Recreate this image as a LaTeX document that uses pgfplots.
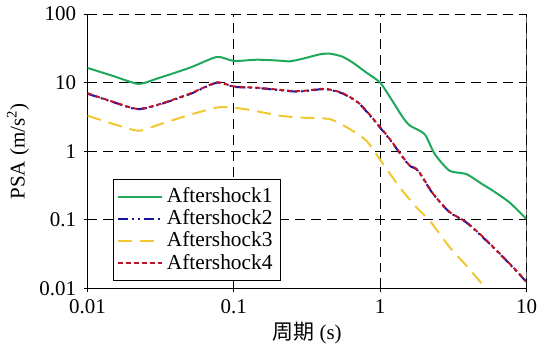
\documentclass[border=0pt]{standalone}
\usepackage{fontspec}
\setmainfont{Liberation Serif}
\newfontfamily\cjk{Noto Sans CJK SC}
\usepackage{pgfplots}
\pgfplotsset{compat=1.18}
\definecolor{cgreen}{RGB}{30,168,90}
\definecolor{cblue}{RGB}{20,20,160}
\definecolor{cyellow}{RGB}{240,200,50}
\definecolor{cred}{RGB}{190,20,40}
\begin{document}
\fontsize{10.5pt}{12.5pt}\selectfont
\begin{tikzpicture}
\begin{loglogaxis}[
  scale only axis, width=220pt, height=137.5pt,
  xmin=0.01, xmax=10, ymin=0.01, ymax=100,
  axis x line*=bottom, axis y line*=left,
  xtick={0.01,0.1,1,10}, xticklabels={0.01,0.1,1,10},
  ytick={0.01,0.1,1,10,100}, yticklabels={0.01,0.1,1,10,100},
  minor tick num=0, xminorticks=false, yminorticks=false,
  tick align=center, major tick length=4pt,
  tick style={black, line width=0.5pt},
  axis line style={black, line width=0.7pt},
  grid=major, major grid style={black, line width=0.5pt, dash pattern=on 5pt off 3pt},
  xlabel={{\cjk 周期} (s)}, ylabel={PSA (m/s\textsuperscript{2})},
  xlabel style={yshift=3pt}, ylabel style={yshift=-2pt},
  ticklabel style={font=\fontsize{10.5pt}{12pt}\selectfont},
  legend style={at={(0.057,0.028)}, anchor=south west, draw=black, line width=0.5pt,
    font=\fontsize{10.7pt}{11.5pt}\selectfont, row sep=-2pt, inner sep=2pt},
  legend cell align=left,
  legend image code/.code={\draw[#1] (0pt,0pt) -- (22pt,0pt);},
  clip=true,
]
\addplot[cgreen, line width=1pt, smooth, tension=0.4] coordinates {
(0.01,16.4)(0.015,12.5)(0.0223,9.6)(0.03,11.5)(0.05,16.5)(0.0766,23.7)(0.1,20.7)(0.143,21.6)(0.2,21)(0.242,20.5)(0.3,22.5)(0.387,25.9)(0.453,26.5)(0.55,24)(0.65,19.6)(0.806,14)(1,10)(1.2,5.6)(1.43,3.1)(1.604,2.35)(2.01,1.78)(2.36,0.91)(2.98,0.52)(3.87,0.466)(5.0,0.33)(5.89,0.266)(7.64,0.18)(10,0.103)
};
\addlegendentry{Aftershock1}
\addplot[cblue, line width=1pt, smooth, tension=0.4, dash pattern=on 5pt off 2pt on 1pt off 2pt on 1pt off 2pt] coordinates {
(0.01,6.9)(0.015,5.2)(0.0218,4.1)(0.03,4.7)(0.05,6.8)(0.0766,10)(0.1,8.7)(0.15,8.3)(0.269,7.4)(0.387,8.0)(0.43,8.0)(0.55,7)(0.726,4.85)(1,2.2)(1.2,1.36)(1.43,0.81)(1.59,0.615)(1.81,0.52)(2.3,0.238)(2.98,0.129)(3.87,0.092)(5.3,0.05)(7.64,0.0229)(10,0.0124)
};
\addlegendentry{Aftershock2}
\addplot[cyellow, line width=1pt, smooth, tension=0.4, dash pattern=on 7pt off 4pt] coordinates {
(0.01,3.3)(0.015,2.5)(0.0223,1.99)(0.03,2.4)(0.05,3.4)(0.0807,4.4)(0.12,4.1)(0.207,3.3)(0.283,3.1)(0.453,2.94)(0.621,2.1)(0.806,1.42)(1,0.75)(1.36,0.298)(1.77,0.152)(2.18,0.0975)(2.98,0.04)(4,0.02)(5.16,0.0105)(5.6,0.008)
};
\addlegendentry{Aftershock3}
\addplot[cred, line width=1pt, smooth, tension=0.4, dash pattern=on 2.5pt off 1.5pt] coordinates {
(0.01,7.0)(0.015,5.25)(0.0218,4.15)(0.03,4.75)(0.05,6.9)(0.0766,10.1)(0.1,8.8)(0.15,8.4)(0.269,7.5)(0.387,8.1)(0.43,8.1)(0.55,7.1)(0.726,4.9)(1,2.25)(1.2,1.38)(1.43,0.82)(1.59,0.62)(1.81,0.53)(2.3,0.24)(2.98,0.13)(3.87,0.093)(5.3,0.051)(7.64,0.0232)(10,0.0126)
};
\addlegendentry{Aftershock4}
\draw[black, line width=0.7pt] (rel axis cs:1,0) -- (rel axis cs:1,1);
\end{loglogaxis}
\end{tikzpicture}
\end{document}
